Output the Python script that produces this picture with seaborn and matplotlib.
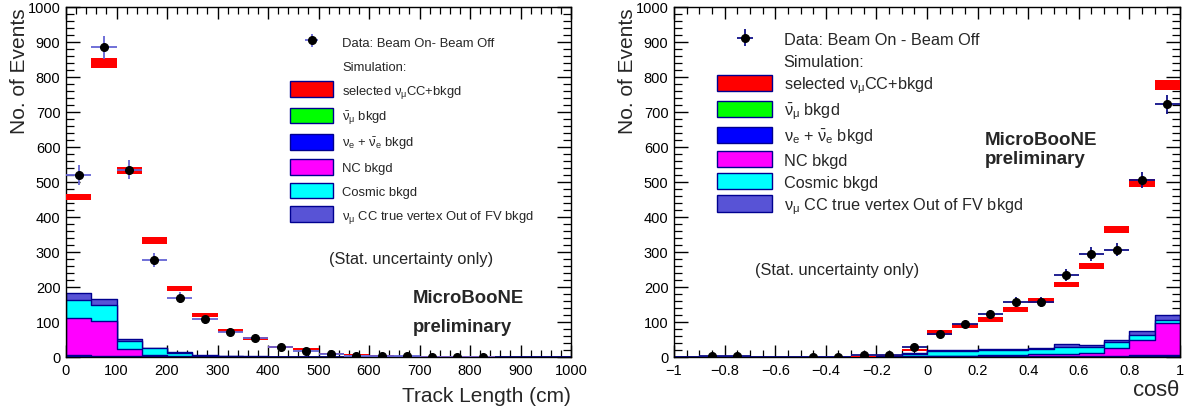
import numpy as np
import pandas as pd
import matplotlib
matplotlib.use("Agg")
import matplotlib.pyplot as plt
from matplotlib.patches import Patch
from matplotlib.ticker import MultipleLocator, FuncFormatter
import seaborn as sns

# ---- Track length panel (50 cm bins, 0-1000 cm) ----
len_edges = np.arange(0, 1001, 50)
len_data = [520, 885, 535, 278, 170, 108, 72, 53, 30, 18, 8, 4, 2, 2, 1, 1, 0,
            np.nan, np.nan, np.nan]
len_data_err = [28, 33, 27, 20, 16, 13, 10, 8, 6, 5, 4, 3, 2, 2, 1, 1, 1, 0, 0, 0]
len_mc = [457, 840, 533, 333, 195, 120, 75, 52, 28, 22, 10, 8, 4, 3, 2, 1, 1, 0, 0, 0]
len_mc_err = [9, 13, 11, 9, 7, 6, 4, 4, 3, 3, 2, 2, 1, 1, 1, 1, 1, 0, 0, 0]
len_numubar = [1, 1, 0.5, 0.3, 0, 0, 0, 0, 0, 0, 0, 0, 0, 0, 0, 0, 0, 0, 0, 0]
len_nue = [4, 3, 2, 1.5, 1, 0.5, 0, 0, 0, 0, 0, 0, 0, 0, 0, 0, 0, 0, 0, 0]
len_nc = [106, 98, 20, 2.5, 1, 0.5, 0.5, 0, 0, 0, 0, 0, 0, 0, 0, 0, 0, 0, 0, 0]
len_cosmic = [51, 46, 24, 20, 9.5, 3, 1.5, 1, 0.5, 0, 0, 0, 0, 0, 0, 0, 0, 0, 0, 0]
len_oofv = [21, 19, 4, 2, 2, 1, 0.5, 0.5, 0.5, 0.5, 0, 0, 0, 0, 0, 0, 0, 0, 0, 0]

# ---- cos(theta) panel (0.1 bins, -1..1) ----
cos_edges = np.round(np.arange(-1.0, 1.01, 0.1), 2)
cos_data = [np.nan, 2, 2, np.nan, np.nan, 1, 1, 5, 7, 28,
            65, 93, 122, 157, 157, 235, 295, 307, 505, 722]
cos_data_err = [0, 1.5, 1.5, 0, 0, 1, 1, 3, 4, 8,
                10, 11, 13, 15, 15, 17, 20, 18, 23, 28]
cos_mc = [0, 0, 0, 0, 0, 0, 0, 2, 4, 20,
          70, 88, 107, 136, 162, 207, 260, 364, 497, 778]
cos_mc_err = [0, 0, 0, 0, 0, 0, 0, 1, 2, 4,
              6, 6, 7, 7, 8, 8, 8, 9, 12, 14]
cos_numubar = [0, 0, 0, 0, 0, 0, 0, 0, 0, 0,
               0.5, 0.5, 0.5, 0.5, 0.5, 0.5, 1, 1, 2, 4]
cos_nue = [0, 0, 0, 0, 0, 0, 0, 0.5, 1, 1,
           1.5, 1.5, 1.5, 2, 2, 2, 2, 2, 3, 3]
cos_nc = [0, 0, 0, 0, 0, 0, 0, 0.5, 1, 1,
          1, 2, 3, 3.5, 5.5, 7.5, 8, 24, 45, 90]
cos_cosmic = [0, 0, 0, 0, 0, 0, 0, 0, 0, 6,
              14, 12, 15, 14, 15, 20, 18, 15, 13, 10]
cos_oofv = [0, 0, 0, 0, 0, 0, 0, 1, 1, 3,
            3, 3, 3, 4, 4, 6, 5, 8, 11, 14]

COLORS = ["#00ff00", "#0000ff", "#ff00ff", "#00ffff", "#5853d6"]
LINE = "#000090"
LABELS = [r"selected $\nu_{\mu}$CC+bkgd",
          r"$\bar{\nu}_{\mu}$ bkgd",
          r"$\nu_{e}$ + $\bar{\nu}_{e}$ bkgd",
          "NC bkgd",
          "Cosmic bkgd",
          r"$\nu_{\mu}$ CC true vertex Out of FV bkgd"]

sns.set_style("ticks")
plt.rcParams["font.family"] = ["Liberation Sans", "DejaVu Sans"]
plt.rcParams["mathtext.fontset"] = "custom"
plt.rcParams["mathtext.rm"] = "Liberation Sans"
plt.rcParams["mathtext.it"] = "Liberation Sans"
plt.rcParams["mathtext.bf"] = "Liberation Sans:bold"
plt.rcParams["xtick.minor.visible"] = True
plt.rcParams["ytick.minor.visible"] = True


def draw_panel(ax, edges, data, data_err, mc, mc_err, comps, ecolor):
    edges = [float(e) for e in edges]
    centers = [0.5 * (a + b) for a, b in zip(edges[:-1], edges[1:])]
    width = edges[1] - edges[0]
    cum = np.cumsum(np.array(comps, dtype=float), axis=0)
    # draw stack from the top layer down so each lower layer covers the one above
    for layer in range(len(comps) - 1, -1, -1):
        df = pd.DataFrame({"x": centers, "w": cum[layer]})
        sns.histplot(data=df, x="x", weights="w", bins=edges, element="step",
                     fill=True, color=COLORS[layer], alpha=1, edgecolor=LINE,
                     linewidth=1.0, ax=ax)
    mc = np.asarray(mc, dtype=float)
    mc_err = np.asarray(mc_err, dtype=float)
    ax.bar(centers, 2 * mc_err, bottom=mc - mc_err, width=width,
           color="red", linewidth=0, zorder=3)
    eb = ax.errorbar(centers, data, yerr=data_err, xerr=width / 2, fmt="o",
                     color="black", ms=5.5, ecolor=ecolor, elinewidth=1.3,
                     capsize=0, zorder=4)
    return eb


def style_axes(ax, xmaj, xmin):
    ax.set_ylim(0, 1000)
    ax.yaxis.set_major_locator(MultipleLocator(100))
    ax.yaxis.set_minor_locator(MultipleLocator(20))
    ax.xaxis.set_major_locator(MultipleLocator(xmaj))
    ax.xaxis.set_minor_locator(MultipleLocator(xmin))
    ax.tick_params(which="both", direction="in", top=True, right=True,
                   labelsize=10.5, colors="black", pad=4)
    ax.tick_params(axis="y", which="major", length=10, width=1)
    ax.tick_params(axis="y", which="minor", length=5.5, width=0.9)
    ax.tick_params(axis="x", which="major", length=8.5, width=1)
    ax.tick_params(axis="x", which="minor", length=5, width=0.9)
    for s in ax.spines.values():
        s.set_linewidth(1.0)
        s.set_color("black")
    ax.set_ylabel("No. of Events", fontsize=15, loc="top", labelpad=-1)


def add_legend(ax, eb, data_label, x, y, fs, hl, hh, ls):
    handles = [eb, Patch(visible=False)]
    handles += [Patch(facecolor="red", edgecolor=LINE, linewidth=1)]
    handles += [Patch(facecolor=c, edgecolor=LINE, linewidth=1) for c in COLORS]
    labels = [data_label, "Simulation:"] + LABELS
    ax.legend(handles, labels, loc="upper left", bbox_to_anchor=(x, y),
              frameon=False, fontsize=fs, handlelength=hl, handleheight=hh,
              labelspacing=ls, handletextpad=0.7, borderpad=0, borderaxespad=0)


fig = plt.figure(figsize=(11.95, 4.10), dpi=100)
ax1 = fig.add_axes([66 / 1195, 52 / 410, 505 / 1195, 350 / 410])
ax2 = fig.add_axes([674 / 1195, 52 / 410, 506 / 1195, 350 / 410])

eb1 = draw_panel(ax1, len_edges, len_data, len_data_err, len_mc, len_mc_err,
                 [len_numubar, len_nue, len_nc, len_cosmic, len_oofv], "#6464d4")
style_axes(ax1, 100, 20)
ax1.set_xlim(0, 1000)
ax1.set_xlabel("Track Length (cm)", fontsize=15, loc="right", labelpad=7)
add_legend(ax1, eb1, "Data: Beam On- Beam Off", 0.4436, 0.922, 9.4, 3.3, 1.45, 0.62)
ax1.text(0.52, 0.28, "(Stat. uncertainty only)", transform=ax1.transAxes,
         fontsize=11.8, va="center")
ax1.text(0.686, 0.17, "MicroBooNE", transform=ax1.transAxes, fontsize=13.3,
         fontweight="bold", va="center")
ax1.text(0.686, 0.086, "preliminary", transform=ax1.transAxes, fontsize=13.3,
         fontweight="bold", va="center")

eb2 = draw_panel(ax2, cos_edges, cos_data, cos_data_err, cos_mc, cos_mc_err,
                 [cos_numubar, cos_nue, cos_nc, cos_cosmic, cos_oofv], "#101088")
style_axes(ax2, 0.2, 0.05)
ax2.set_xlim(-1, 1)
ax2.xaxis.set_major_formatter(FuncFormatter(
    lambda v, p: ("%g" % round(v, 2)).replace("-", "\u2212")))
ax2.set_xlabel(r"cos$\theta$", fontsize=16, loc="right", labelpad=2)
add_legend(ax2, eb2, "Data: Beam On - Beam Off", 0.085, 0.932, 11.7, 3.4, 1.15, 0.33)
ax2.text(0.16, 0.25, "(Stat. uncertainty only)", transform=ax2.transAxes,
         fontsize=11.8, va="center")
ax2.text(0.615, 0.622, "MicroBooNE", transform=ax2.transAxes, fontsize=13.5,
         fontweight="bold", va="center")
ax2.text(0.615, 0.566, "preliminary", transform=ax2.transAxes, fontsize=13.5,
         fontweight="bold", va="center")

fig.savefig("out.png", dpi=100)
